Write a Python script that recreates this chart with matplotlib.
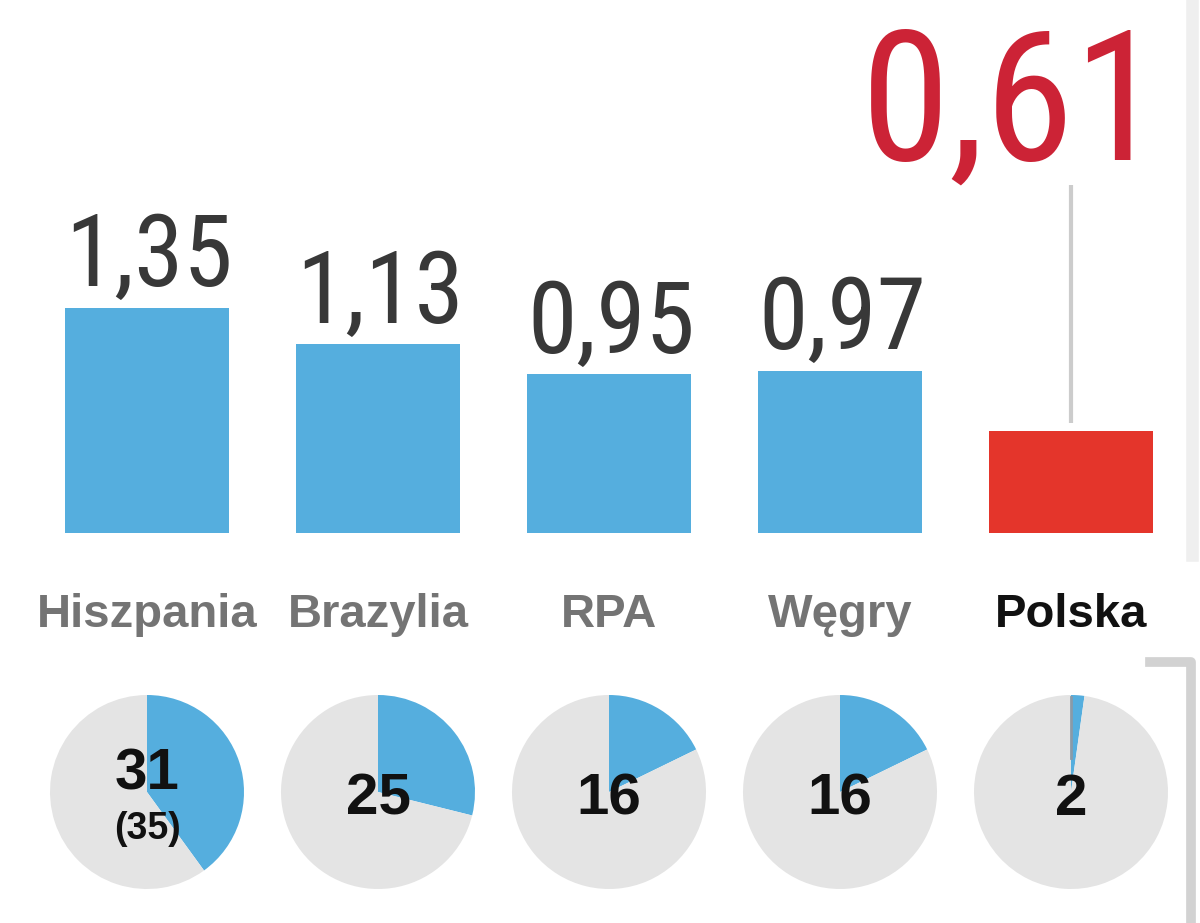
import matplotlib.pyplot as plt
from matplotlib import font_manager as fm
from matplotlib.lines import Line2D

# data
countries = ['Hiszpania', 'Brazylia', 'RPA', 'Węgry', 'Polska']
values = [1.35, 1.13, 0.95, 0.97, 0.61]
value_labels = ['1,35', '1,13', '0,95', '0,97', '0,61']
pie_values = [36, 26, 16, 16, 2]
pie_labels = ['31', '25', '16', '16', '2']
pie_sub = ['(35)', '', '', '', '']
pie_total = 90

blue = '#55aede'
red = '#e4352b'

names = {f.name for f in fm.fontManager.ttflist}
narrow = next((n for n in ['Liberation Sans Narrow', 'Roboto Condensed', 'Open Sans Condensed']
               if n in names), 'DejaVu Sans')
sans = 'Liberation Sans' if 'Liberation Sans' in names else 'DejaVu Sans'

W, H = 1200, 923
fig = plt.figure(figsize=(12, 9.23), dpi=100)
fig.patch.set_facecolor('white')

# bar axes: baseline at y=533 px, 167 px per unit, bars every 231 px starting at 147
base_px, unit_px, step_px, first_px = 533, 167, 231, 147
ax = fig.add_axes([0, (H - base_px) / H, 1, base_px / H])
ax.set_xlim(-first_px / step_px, (W - first_px) / step_px)
ax.set_ylim(0, base_px / unit_px)
ax.axis('off')

colors = [blue] * 4 + [red]
xs = list(range(len(countries)))
ax.bar(xs, values, width=0.714, color=colors, edgecolor='none')

for i, (v, lab) in enumerate(zip(values, value_labels)):
    if i == 4:
        ax.text(i + 0.40, (base_px - 160) / unit_px, lab, ha='right', va='baseline',
                fontsize=130, color='#cc2336', family=narrow, fontstretch='condensed',
                clip_on=False)
        ax.plot([i, i], [v + 0.05, (base_px - 185) / unit_px], color='#cccccc', lw=3,
                solid_capstyle='butt')
    else:
        ax.text(i + 0.01, v + 0.13, lab, ha='center', va='baseline', fontsize=72,
                color='#383838', family=narrow, fontstretch='condensed', clip_on=False)

for i, c in enumerate(countries):
    ax.text(i, -(615 - base_px) / unit_px, c, ha='center', va='center', fontsize=34,
            fontweight='bold', family=sans,
            color='#111111' if c == 'Polska' else '#747474', clip_on=False)

# pies
r_px, cy_px = 97, 792
for i, (pv, pl, ps) in enumerate(zip(pie_values, pie_labels, pie_sub)):
    cx_px = first_px + step_px * i
    pax = fig.add_axes([(cx_px - r_px) / W, (H - cy_px - r_px) / H, 2 * r_px / W, 2 * r_px / H])
    pax.pie([pv, pie_total - pv], colors=[blue, '#e4e4e4'], startangle=90,
            counterclock=False, wedgeprops=dict(edgecolor='none'))
    if pv <= 3:
        pax.plot([0, 0], [0.35, 0.98], color='#8a9aa8', lw=2)
    pax.set_xlim(-1, 1)
    pax.set_ylim(-1, 1)
    pax.set_aspect('auto')
    pax.axis('off')
    if ps:
        pax.text(0, 0.18, pl, ha='center', va='center', fontsize=42, fontweight='bold',
                 family=sans, color='#111111')
        pax.text(0, -0.38, ps, ha='center', va='center', fontsize=27, fontweight='bold',
                 family=sans, color='#111111')
    else:
        pax.text(0, -0.08, pl, ha='center', va='center', fontsize=42, fontweight='bold',
                 family=sans, color='#111111')

# right edge decorations
fig.add_artist(Line2D([1192 / W, 1192 / W], [1, (H - 555) / H], transform=fig.transFigure,
                      color='#efefef', lw=9))
fig.add_artist(Line2D([1150 / W, 1191 / W, 1191 / W], [(H - 662) / H, (H - 662) / H, 0],
                      transform=fig.transFigure, color='#d2d2d2', lw=7,
                      solid_joinstyle='round'))

fig.savefig('out.png', dpi=100, facecolor='white')
